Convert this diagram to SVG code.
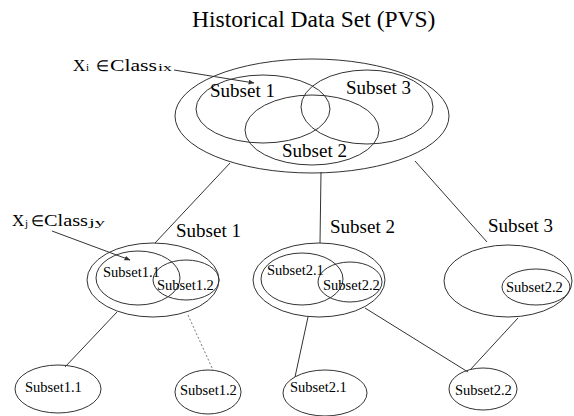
<svg xmlns="http://www.w3.org/2000/svg" width="574" height="416" viewBox="0 0 574 416">
  <style>
    .set { fill: none; stroke: #333; stroke-width: 1; }
    .link { fill: none; stroke: #333; stroke-width: 1; }
    .dotted { stroke: #777; stroke-dasharray: 2 2; }
    .pointer { fill: none; stroke: #333; stroke-width: 1; marker-end: url(#tip); }
    text { font-family: "Liberation Serif", "Times New Roman", serif; fill: #000; }
    .title { font-size: 23.5px; }
    .big { font-size: 19px; }
    .small { font-size: 14.5px; }
    .sym { font-size: 17px; }
    .elem { font-size: 15px; }
    .sub { font-size: 11px; }
  </style>
  <defs>
    <marker id="tip" viewBox="0 0 10 10" refX="9" refY="5" markerWidth="6" markerHeight="6" orient="auto">
      <path d="M0,1 L10,5 L0,9 Z" fill="#333"/>
    </marker>
  </defs>

  <text class="title" x="192" y="27">Historical Data Set (PVS)</text>

  <!-- tree edges -->
  <g id="connectors">
    <line class="link" x1="230" y1="163" x2="155" y2="243"/>
    <line class="link" x1="321" y1="172" x2="320" y2="243"/>
    <line class="link" x1="415" y1="161" x2="487" y2="242"/>
    <line class="link" x1="117" y1="312" x2="65" y2="367"/>
    <line class="link dotted" x1="188" y1="315" x2="213" y2="370"/>
    <line class="link" x1="308" y1="317" x2="295" y2="377"/>
    <line class="link" x1="365" y1="308" x2="468" y2="372"/>
    <line class="link" x1="518" y1="318" x2="470" y2="370"/>
    <line class="pointer" x1="174" y1="70" x2="254" y2="83"/>
    <line class="pointer" x1="52" y1="231" x2="130" y2="260"/>
  </g>

  <!-- whole data set with three overlapping subsets -->
  <g id="root">
    <ellipse class="set" cx="312" cy="116" rx="137" ry="57"/>
    <ellipse class="set" cx="263" cy="109" rx="67" ry="34"/>
    <ellipse class="set" cx="367" cy="107" rx="66" ry="37"/>
    <ellipse class="set" cx="312" cy="130" rx="67" ry="35"/>
    <text class="big" x="210" y="97">Subset 1</text>
    <text class="big" x="346" y="94">Subset 3</text>
    <text class="big" x="282" y="157">Subset 2</text>
    <g id="xi-label">
      <text class="sym" x="73" y="71">X</text>
      <text class="sub" x="86" y="71">i</text>
      <text class="elem" x="96" y="71">∈</text>
      <text class="sym" x="110" y="71" textLength="47" lengthAdjust="spacingAndGlyphs">Class</text>
      <text class="sub" x="158" y="71" textLength="14" lengthAdjust="spacingAndGlyphs">ix</text>
    </g>
  </g>

  <g id="subset1">
    <ellipse class="set" cx="153" cy="280" rx="66" ry="37"/>
    <ellipse class="set" cx="138" cy="278" rx="42" ry="27"/>
    <ellipse class="set" cx="186" cy="280" rx="33" ry="20"/>
    <text class="big" x="176" y="237">Subset 1</text>
    <text class="small" x="103" y="277">Subset1.1</text>
    <text class="small" x="157" y="290">Subset1.2</text>
    <g id="xj-label">
      <text class="sym" x="12" y="226">X</text>
      <text class="sub" x="25" y="227">j</text>
      <text class="elem" x="31" y="226">∈</text>
      <text class="sym" x="44" y="226" textLength="44" lengthAdjust="spacingAndGlyphs">Class</text>
      <text class="sub" x="89" y="226" textLength="16" lengthAdjust="spacingAndGlyphs">jy</text>
    </g>
  </g>

  <g id="subset2">
    <ellipse class="set" cx="319" cy="280" rx="66" ry="37"/>
    <ellipse class="set" cx="302" cy="279" rx="41" ry="26"/>
    <ellipse class="set" cx="350" cy="282" rx="32" ry="20"/>
    <text class="big" x="330" y="233">Subset 2</text>
    <text class="small" x="267" y="275">Subset2.1</text>
    <text class="small" x="323" y="290">Subset2.2</text>
  </g>

  <g id="subset3">
    <ellipse class="set" cx="508" cy="281" rx="64" ry="36"/>
    <ellipse class="set" cx="536" cy="287" rx="34" ry="18"/>
    <text class="big" x="488" y="232">Subset 3</text>
    <text class="small" x="506" y="292">Subset2.2</text>
  </g>

  <g id="leaf-1-1">
    <ellipse class="set" cx="58" cy="389" rx="43" ry="24"/>
    <text class="small" x="25" y="392">Subset1.1</text>
  </g>
  <g id="leaf-1-2">
    <ellipse class="set" cx="208" cy="392" rx="33" ry="22"/>
    <text class="small" x="180" y="395">Subset1.2</text>
  </g>
  <g id="leaf-2-1">
    <ellipse class="set" cx="325" cy="393" rx="42" ry="23"/>
    <text class="small" x="290" y="392">Subset2.1</text>
  </g>
  <g id="leaf-2-2">
    <ellipse class="set" cx="483" cy="389" rx="34" ry="21"/>
    <text class="small" x="455" y="395">Subset2.2</text>
  </g>
</svg>
